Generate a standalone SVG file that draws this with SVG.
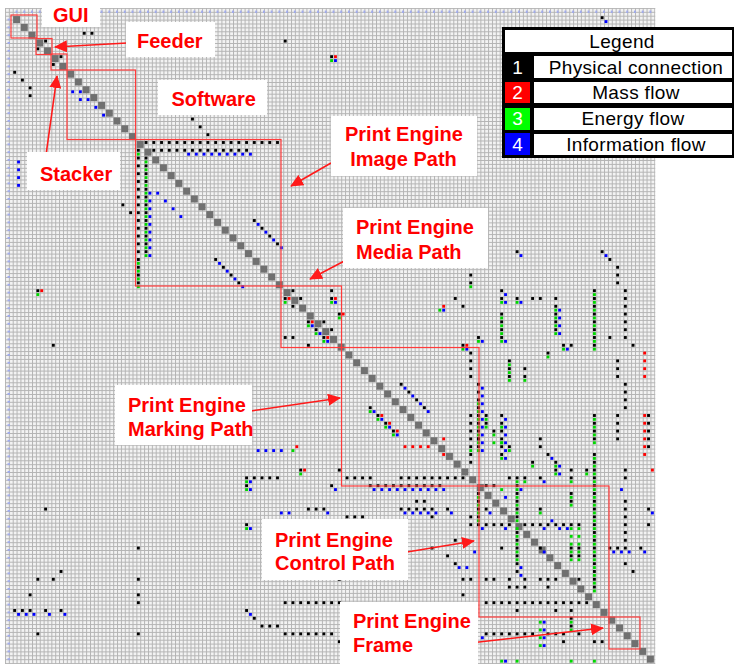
<svg xmlns="http://www.w3.org/2000/svg" width="735" height="664" viewBox="0 0 735 664">
<style>
.box{fill:none;stroke:#ff3b3b;stroke-width:1.2}
.wb{fill:#fff}
.lbl{font-family:"Liberation Sans",Arial,sans-serif;font-weight:bold;font-size:20px;fill:#ff0000}
.arr{stroke:#ff1a1a;stroke-width:1.6;fill:none;marker-end:url(#ah)}
.lg{font-family:"Liberation Sans",Arial,sans-serif;font-size:19px;letter-spacing:.35px;fill:#000;text-anchor:middle}
.lgn{font-family:"Liberation Sans",Arial,sans-serif;font-size:19px;fill:#fff;text-anchor:middle}
</style>
<defs>
<pattern id="grid" patternUnits="userSpaceOnUse" x="12.7" y="15.7" width="3.865" height="3.9"><rect width="3.865" height="3.9" fill="#f3f3f3"/><path d="M0 0.5H3.865M0.5 0V3.9" stroke="#b4b4b4" stroke-width="1"/></pattern>
<pattern id="hx" patternUnits="userSpaceOnUse" x="12.7" y="8" width="7.73" height="8"><rect x="3" y="2.5" width="1.6" height="2.5" fill="#9aa6f2"/></pattern>
<pattern id="hy" patternUnits="userSpaceOnUse" x="5" y="15.7" width="8" height="7.8"><rect x="2.5" y="3" width="2.5" height="1.6" fill="#9aa6f2"/></pattern>
<rect id="K" x=".07" y=".07" width=".37" height=".37" fill="#000"/>
<rect id="R" x=".57" y=".07" width=".37" height=".37" fill="#f00"/>
<rect id="G" x=".07" y=".57" width=".37" height=".37" fill="#00d800"/>
<rect id="B" x=".57" y=".57" width=".37" height=".37" fill="#0000ff"/>
<rect id="D" x=".05" y=".05" width=".9" height=".9" fill="#707070"/>
<marker id="ah" markerUnits="userSpaceOnUse" markerWidth="14" markerHeight="12" refX="12" refY="6" orient="auto"><path d="M0 0L13 6L0 12z" fill="#ff1a1a"/></marker>
</defs>
<rect width="735" height="664" fill="#fff"/>
<g id="grid-bg">
<rect x="5" y="8" width="650.3" height="656" fill="url(#grid)"/>
<rect x="12.7" y="8" width="641.6" height="7.7" fill="url(#hx)"/>
<rect x="5" y="15.7" width="7.7" height="648.3" fill="url(#hy)"/>
</g>
<g id="matrix" transform="translate(12.7 15.7) scale(7.73 7.8)">
<g id="diagonal">
<use href="#D" x="0" y="0"/><use href="#D" x="1" y="1"/><use href="#D" x="2" y="2"/><use href="#D" x="3" y="3"/><use href="#D" x="4" y="4"/><use href="#D" x="5" y="5"/><use href="#D" x="6" y="6"/><use href="#D" x="7" y="7"/><use href="#D" x="8" y="8"/><use href="#D" x="9" y="9"/>
<use href="#D" x="10" y="10"/><use href="#D" x="11" y="11"/><use href="#D" x="12" y="12"/><use href="#D" x="13" y="13"/><use href="#D" x="14" y="14"/><use href="#D" x="15" y="15"/><use href="#D" x="16" y="16"/><use href="#D" x="17" y="17"/><use href="#D" x="18" y="18"/><use href="#D" x="19" y="19"/>
<use href="#D" x="20" y="20"/><use href="#D" x="21" y="21"/><use href="#D" x="22" y="22"/><use href="#D" x="23" y="23"/><use href="#D" x="24" y="24"/><use href="#D" x="25" y="25"/><use href="#D" x="26" y="26"/><use href="#D" x="27" y="27"/><use href="#D" x="28" y="28"/><use href="#D" x="29" y="29"/>
<use href="#D" x="30" y="30"/><use href="#D" x="31" y="31"/><use href="#D" x="32" y="32"/><use href="#D" x="33" y="33"/><use href="#D" x="34" y="34"/><use href="#D" x="35" y="35"/><use href="#D" x="36" y="36"/><use href="#D" x="37" y="37"/><use href="#D" x="38" y="38"/><use href="#D" x="39" y="39"/>
<use href="#D" x="40" y="40"/><use href="#D" x="41" y="41"/><use href="#D" x="42" y="42"/><use href="#D" x="43" y="43"/><use href="#D" x="44" y="44"/><use href="#D" x="45" y="45"/><use href="#D" x="46" y="46"/><use href="#D" x="47" y="47"/><use href="#D" x="48" y="48"/><use href="#D" x="49" y="49"/>
<use href="#D" x="50" y="50"/><use href="#D" x="51" y="51"/><use href="#D" x="52" y="52"/><use href="#D" x="53" y="53"/><use href="#D" x="54" y="54"/><use href="#D" x="55" y="55"/><use href="#D" x="56" y="56"/><use href="#D" x="57" y="57"/><use href="#D" x="58" y="58"/><use href="#D" x="59" y="59"/>
<use href="#D" x="60" y="60"/><use href="#D" x="61" y="61"/><use href="#D" x="62" y="62"/><use href="#D" x="63" y="63"/><use href="#D" x="64" y="64"/><use href="#D" x="65" y="65"/><use href="#D" x="66" y="66"/><use href="#D" x="67" y="67"/><use href="#D" x="68" y="68"/><use href="#D" x="69" y="69"/>
<use href="#D" x="70" y="70"/><use href="#D" x="71" y="71"/><use href="#D" x="72" y="72"/><use href="#D" x="73" y="73"/><use href="#D" x="74" y="74"/><use href="#D" x="75" y="75"/><use href="#D" x="76" y="76"/><use href="#D" x="77" y="77"/><use href="#D" x="78" y="78"/><use href="#D" x="79" y="79"/>
<use href="#D" x="80" y="80"/><use href="#D" x="81" y="81"/><use href="#D" x="82" y="82"/>
</g>
<g id="marks">
<use href="#K" x="4" y="3"/><use href="#K" x="3" y="4"/><use href="#K" x="6" y="5"/><use href="#K" x="5" y="6"/><use href="#K" x="9" y="2"/><use href="#K" x="10" y="2"/><use href="#K" x="0" y="7"/><use href="#K" x="1" y="8"/><use href="#K" x="2" y="9"/><use href="#K" x="2" y="10"/>
<use href="#B" x="7" y="9"/><use href="#B" x="8" y="9"/><use href="#B" x="8" y="10"/><use href="#B" x="9" y="10"/><use href="#B" x="10" y="11"/><use href="#B" x="11" y="12"/>
<use href="#K" x="23" y="13"/><use href="#K" x="24" y="14"/><use href="#K" x="25" y="15"/><use href="#K" x="35" y="3"/>
<use href="#K" x="41" y="5"/><use href="#R" x="41" y="5"/><use href="#G" x="41" y="5"/><use href="#B" x="41" y="5"/>
<use href="#K" x="76" y="0"/><use href="#B" x="76" y="0"/>
<use href="#K" x="14" y="24"/><use href="#K" x="15" y="25"/>
<use href="#B" x="0" y="18"/><use href="#B" x="0" y="19"/><use href="#B" x="0" y="20"/><use href="#B" x="0" y="21"/>
<use href="#K" x="17" y="16"/><use href="#K" x="18" y="16"/><use href="#K" x="19" y="16"/><use href="#K" x="20" y="16"/><use href="#K" x="21" y="16"/><use href="#K" x="22" y="16"/><use href="#K" x="23" y="16"/><use href="#K" x="24" y="16"/><use href="#K" x="25" y="16"/><use href="#K" x="26" y="16"/><use href="#K" x="27" y="16"/><use href="#K" x="28" y="16"/><use href="#K" x="29" y="16"/><use href="#K" x="30" y="16"/><use href="#K" x="31" y="16"/><use href="#K" x="32" y="16"/><use href="#K" x="33" y="16"/><use href="#K" x="34" y="16"/>
<use href="#K" x="18" y="17"/><use href="#K" x="19" y="17"/><use href="#K" x="20" y="17"/><use href="#K" x="21" y="17"/><use href="#K" x="22" y="17"/><use href="#K" x="23" y="17"/><use href="#K" x="24" y="17"/><use href="#K" x="25" y="17"/><use href="#K" x="26" y="17"/><use href="#K" x="27" y="17"/><use href="#K" x="28" y="17"/><use href="#K" x="29" y="17"/><use href="#K" x="30" y="17"/>
<use href="#B" x="22" y="17"/><use href="#B" x="23" y="17"/><use href="#B" x="24" y="17"/><use href="#B" x="25" y="17"/><use href="#B" x="26" y="17"/><use href="#B" x="27" y="17"/><use href="#B" x="28" y="17"/><use href="#B" x="29" y="17"/><use href="#B" x="30" y="17"/>
<use href="#K" x="16" y="17"/><use href="#K" x="16" y="18"/><use href="#K" x="16" y="19"/><use href="#K" x="16" y="20"/><use href="#K" x="16" y="21"/><use href="#K" x="16" y="22"/><use href="#K" x="16" y="23"/><use href="#K" x="16" y="24"/><use href="#K" x="16" y="25"/><use href="#K" x="16" y="26"/><use href="#K" x="16" y="27"/><use href="#K" x="16" y="28"/><use href="#K" x="16" y="29"/><use href="#K" x="16" y="30"/><use href="#K" x="16" y="31"/><use href="#K" x="16" y="32"/><use href="#K" x="16" y="33"/><use href="#K" x="16" y="34"/>
<use href="#G" x="16" y="17"/><use href="#G" x="16" y="31"/><use href="#G" x="16" y="32"/><use href="#G" x="16" y="33"/><use href="#G" x="16" y="34"/>
<use href="#K" x="17" y="18"/><use href="#K" x="17" y="19"/><use href="#K" x="17" y="20"/><use href="#K" x="17" y="21"/><use href="#K" x="17" y="22"/><use href="#K" x="17" y="23"/><use href="#K" x="17" y="24"/><use href="#K" x="17" y="25"/><use href="#K" x="17" y="26"/><use href="#K" x="17" y="27"/><use href="#K" x="17" y="28"/><use href="#K" x="17" y="29"/><use href="#K" x="17" y="30"/>
<use href="#G" x="17" y="18"/><use href="#G" x="17" y="19"/><use href="#G" x="17" y="20"/><use href="#G" x="17" y="21"/><use href="#G" x="17" y="22"/><use href="#G" x="17" y="23"/><use href="#G" x="17" y="24"/><use href="#G" x="17" y="25"/><use href="#G" x="17" y="26"/><use href="#G" x="17" y="27"/><use href="#G" x="17" y="28"/><use href="#G" x="17" y="29"/><use href="#G" x="17" y="30"/>
<use href="#B" x="17" y="22"/><use href="#B" x="17" y="23"/><use href="#B" x="17" y="24"/><use href="#B" x="17" y="25"/><use href="#B" x="17" y="26"/><use href="#B" x="17" y="27"/><use href="#B" x="17" y="28"/><use href="#B" x="17" y="29"/><use href="#B" x="17" y="30"/>
<use href="#B" x="18" y="22"/><use href="#B" x="19" y="23"/><use href="#B" x="20" y="24"/><use href="#B" x="21" y="25"/>
<use href="#K" x="31" y="26"/><use href="#B" x="31" y="26"/><use href="#K" x="32" y="27"/><use href="#B" x="32" y="27"/><use href="#K" x="33" y="28"/><use href="#B" x="33" y="28"/><use href="#K" x="34" y="29"/><use href="#B" x="34" y="29"/>
<use href="#K" x="26" y="31"/><use href="#B" x="26" y="31"/><use href="#K" x="27" y="32"/><use href="#B" x="27" y="32"/><use href="#K" x="28" y="33"/><use href="#B" x="28" y="33"/><use href="#K" x="29" y="34"/><use href="#B" x="29" y="34"/>
<use href="#K" x="36" y="35"/><use href="#K" x="41" y="35"/>
<use href="#K" x="35" y="36"/><use href="#R" x="35" y="36"/><use href="#G" x="35" y="36"/><use href="#K" x="37" y="36"/>
<use href="#K" x="41" y="36"/><use href="#R" x="41" y="36"/><use href="#G" x="41" y="36"/><use href="#B" x="41" y="36"/>
<use href="#K" x="36" y="37"/>
<use href="#K" x="42" y="38"/><use href="#R" x="42" y="38"/><use href="#G" x="42" y="38"/>
<use href="#K" x="38" y="39"/><use href="#R" x="38" y="39"/><use href="#G" x="38" y="39"/><use href="#B" x="38" y="39"/><use href="#K" x="40" y="39"/>
<use href="#K" x="39" y="40"/><use href="#G" x="39" y="40"/><use href="#B" x="39" y="40"/><use href="#K" x="41" y="40"/>
<use href="#K" x="35" y="41"/><use href="#K" x="36" y="41"/>
<use href="#K" x="40" y="41"/><use href="#R" x="40" y="41"/><use href="#G" x="40" y="41"/><use href="#B" x="40" y="41"/>
<use href="#K" x="38" y="42"/>
<use href="#K" x="3" y="35"/><use href="#R" x="3" y="35"/><use href="#G" x="3" y="35"/><use href="#K" x="5" y="42"/>
<use href="#K" x="65" y="30"/><use href="#B" x="65" y="30"/><use href="#K" x="76" y="30"/><use href="#B" x="76" y="30"/><use href="#K" x="77" y="31"/><use href="#K" x="78" y="32"/><use href="#K" x="78" y="33"/><use href="#K" x="78" y="34"/>
<use href="#K" x="59" y="33"/><use href="#K" x="59" y="34"/><use href="#G" x="59" y="34"/>
<use href="#K" x="63" y="35"/><use href="#B" x="63" y="35"/><use href="#K" x="63" y="36"/><use href="#G" x="63" y="36"/><use href="#B" x="63" y="36"/>
<use href="#K" x="65" y="36"/><use href="#G" x="65" y="36"/><use href="#B" x="65" y="36"/><use href="#K" x="67" y="36"/><use href="#K" x="68" y="36"/><use href="#K" x="70" y="36"/>
<use href="#K" x="70" y="37"/><use href="#G" x="70" y="37"/><use href="#B" x="70" y="37"/><use href="#K" x="70" y="38"/><use href="#G" x="70" y="38"/><use href="#B" x="70" y="38"/><use href="#K" x="70" y="39"/><use href="#G" x="70" y="39"/><use href="#B" x="70" y="39"/><use href="#K" x="70" y="40"/><use href="#G" x="70" y="40"/><use href="#B" x="70" y="40"/>
<use href="#K" x="75" y="35"/><use href="#G" x="75" y="35"/><use href="#K" x="75" y="36"/><use href="#G" x="75" y="36"/><use href="#K" x="75" y="37"/><use href="#G" x="75" y="37"/><use href="#K" x="75" y="38"/><use href="#G" x="75" y="38"/><use href="#K" x="75" y="39"/><use href="#G" x="75" y="39"/><use href="#K" x="75" y="40"/><use href="#G" x="75" y="40"/><use href="#K" x="75" y="41"/><use href="#G" x="75" y="41"/><use href="#K" x="75" y="42"/><use href="#G" x="75" y="42"/>
<use href="#K" x="79" y="35"/><use href="#K" x="79" y="36"/><use href="#K" x="79" y="37"/><use href="#K" x="79" y="38"/><use href="#K" x="79" y="39"/><use href="#K" x="79" y="40"/><use href="#K" x="79" y="41"/>
<use href="#K" x="77" y="41"/><use href="#K" x="80" y="42"/>
<use href="#K" x="57" y="36"/><use href="#K" x="58" y="37"/><use href="#R" x="55" y="37"/><use href="#G" x="55" y="37"/><use href="#B" x="55" y="37"/>
<use href="#K" x="60" y="41"/><use href="#G" x="60" y="41"/><use href="#B" x="60" y="41"/>
<use href="#K" x="58" y="42"/><use href="#R" x="58" y="42"/><use href="#G" x="58" y="42"/><use href="#B" x="58" y="42"/>
<use href="#K" x="71" y="42"/><use href="#G" x="71" y="42"/><use href="#B" x="71" y="42"/><use href="#K" x="72" y="42"/><use href="#K" x="69" y="43"/><use href="#G" x="69" y="43"/>
<use href="#K" x="63" y="38"/><use href="#G" x="63" y="38"/><use href="#K" x="63" y="39"/><use href="#G" x="63" y="39"/><use href="#K" x="63" y="40"/><use href="#G" x="63" y="40"/><use href="#K" x="63" y="41"/><use href="#G" x="63" y="41"/><use href="#B" x="63" y="41"/>
<use href="#K" x="59" y="43"/><use href="#K" x="59" y="44"/><use href="#K" x="59" y="45"/><use href="#K" x="59" y="46"/>
<use href="#R" x="81" y="43"/><use href="#R" x="81" y="44"/><use href="#R" x="81" y="45"/><use href="#R" x="81" y="46"/>
<use href="#K" x="78" y="44"/><use href="#K" x="78" y="45"/><use href="#K" x="78" y="46"/>
<use href="#K" x="64" y="44"/><use href="#G" x="64" y="44"/><use href="#K" x="64" y="45"/><use href="#G" x="64" y="45"/><use href="#K" x="64" y="46"/><use href="#G" x="64" y="46"/>
<use href="#K" x="66" y="45"/><use href="#K" x="66" y="46"/><use href="#G" x="66" y="46"/>
<use href="#K" x="79" y="47"/><use href="#K" x="79" y="48"/><use href="#K" x="79" y="49"/><use href="#K" x="79" y="50"/>
<use href="#K" x="60" y="47"/><use href="#B" x="60" y="47"/><use href="#K" x="60" y="48"/><use href="#B" x="60" y="48"/>
<use href="#K" x="60" y="49"/><use href="#G" x="60" y="49"/><use href="#B" x="60" y="49"/><use href="#K" x="60" y="50"/><use href="#G" x="60" y="50"/><use href="#B" x="60" y="50"/><use href="#K" x="60" y="51"/><use href="#G" x="60" y="51"/><use href="#B" x="60" y="51"/><use href="#K" x="60" y="52"/><use href="#G" x="60" y="52"/><use href="#B" x="60" y="52"/><use href="#K" x="60" y="53"/><use href="#G" x="60" y="53"/><use href="#B" x="60" y="53"/><use href="#K" x="60" y="54"/><use href="#G" x="60" y="54"/><use href="#B" x="60" y="54"/><use href="#K" x="60" y="55"/><use href="#G" x="60" y="55"/><use href="#B" x="60" y="55"/>
<use href="#K" x="50" y="47"/><use href="#B" x="50" y="47"/><use href="#K" x="51" y="48"/><use href="#B" x="51" y="48"/><use href="#K" x="52" y="49"/><use href="#B" x="52" y="49"/><use href="#K" x="53" y="50"/><use href="#B" x="53" y="50"/>
<use href="#K" x="46" y="50"/><use href="#G" x="46" y="50"/><use href="#B" x="46" y="50"/>
<use href="#K" x="47" y="51"/><use href="#R" x="47" y="51"/><use href="#G" x="47" y="51"/><use href="#B" x="47" y="51"/>
<use href="#K" x="48" y="52"/><use href="#R" x="48" y="52"/><use href="#G" x="48" y="52"/><use href="#B" x="48" y="52"/>
<use href="#K" x="49" y="53"/><use href="#R" x="49" y="53"/><use href="#G" x="49" y="53"/><use href="#B" x="49" y="53"/>
<use href="#K" x="59" y="51"/><use href="#K" x="59" y="52"/><use href="#K" x="59" y="53"/><use href="#K" x="59" y="54"/><use href="#K" x="59" y="55"/><use href="#G" x="59" y="55"/><use href="#K" x="59" y="56"/><use href="#K" x="59" y="57"/>
<use href="#K" x="61" y="51"/><use href="#G" x="61" y="51"/><use href="#K" x="61" y="52"/><use href="#G" x="61" y="52"/>
<use href="#K" x="62" y="53"/><use href="#G" x="62" y="53"/><use href="#G" x="62" y="54"/>
<use href="#K" x="63" y="51"/><use href="#B" x="63" y="51"/><use href="#K" x="63" y="52"/><use href="#G" x="63" y="52"/><use href="#B" x="63" y="52"/><use href="#K" x="63" y="53"/><use href="#B" x="63" y="53"/><use href="#K" x="63" y="54"/><use href="#G" x="63" y="54"/><use href="#B" x="63" y="54"/><use href="#K" x="63" y="55"/><use href="#B" x="63" y="55"/>
<use href="#K" x="64" y="55"/><use href="#G" x="64" y="55"/><use href="#K" x="68" y="55"/><use href="#K" x="68" y="54"/>
<use href="#K" x="75" y="51"/><use href="#G" x="75" y="51"/><use href="#K" x="75" y="52"/><use href="#G" x="75" y="52"/><use href="#K" x="75" y="53"/><use href="#G" x="75" y="53"/><use href="#K" x="75" y="54"/><use href="#G" x="75" y="54"/>
<use href="#K" x="78" y="51"/><use href="#K" x="78" y="52"/><use href="#K" x="78" y="53"/><use href="#K" x="78" y="54"/>
<use href="#R" x="81" y="51"/><use href="#R" x="81" y="52"/><use href="#R" x="81" y="53"/><use href="#R" x="81" y="54"/><use href="#R" x="81" y="55"/>
<use href="#K" x="82" y="51"/><use href="#K" x="82" y="52"/><use href="#K" x="82" y="53"/><use href="#K" x="82" y="54"/><use href="#K" x="82" y="55"/>
<use href="#R" x="50" y="55"/><use href="#R" x="51" y="55"/><use href="#R" x="52" y="55"/><use href="#R" x="53" y="55"/><use href="#R" x="55" y="54"/><use href="#R" x="55" y="56"/>
<use href="#B" x="31" y="55"/><use href="#B" x="32" y="55"/><use href="#B" x="33" y="55"/><use href="#B" x="34" y="55"/><use href="#R" x="36" y="55"/><use href="#G" x="36" y="55"/>
<use href="#K" x="37" y="58"/><use href="#R" x="37" y="58"/><use href="#G" x="37" y="58"/><use href="#K" x="42" y="58"/>
<use href="#K" x="30" y="59"/><use href="#G" x="30" y="59"/><use href="#B" x="30" y="59"/><use href="#K" x="31" y="59"/><use href="#K" x="32" y="59"/><use href="#K" x="33" y="59"/><use href="#K" x="34" y="59"/>
<use href="#K" x="43" y="59"/><use href="#K" x="44" y="59"/><use href="#K" x="45" y="59"/><use href="#K" x="46" y="59"/>
<use href="#K" x="50" y="59"/><use href="#K" x="51" y="59"/><use href="#K" x="52" y="59"/><use href="#K" x="53" y="59"/><use href="#K" x="54" y="59"/><use href="#K" x="55" y="59"/><use href="#K" x="56" y="59"/><use href="#K" x="57" y="59"/><use href="#K" x="58" y="59"/>
<use href="#K" x="30" y="60"/><use href="#G" x="30" y="60"/><use href="#B" x="30" y="60"/><use href="#K" x="41" y="60"/><use href="#B" x="41" y="60"/>
<use href="#K" x="46" y="60"/><use href="#B" x="46" y="60"/><use href="#K" x="47" y="60"/><use href="#B" x="47" y="60"/><use href="#K" x="48" y="60"/><use href="#B" x="48" y="60"/><use href="#K" x="49" y="60"/><use href="#B" x="49" y="60"/><use href="#K" x="50" y="60"/><use href="#B" x="50" y="60"/><use href="#K" x="51" y="60"/><use href="#B" x="51" y="60"/><use href="#K" x="52" y="60"/><use href="#B" x="52" y="60"/><use href="#K" x="53" y="60"/><use href="#B" x="53" y="60"/><use href="#K" x="54" y="60"/><use href="#B" x="54" y="60"/><use href="#K" x="55" y="60"/><use href="#B" x="55" y="60"/>
<use href="#K" x="52" y="62"/><use href="#K" x="53" y="62"/>
<use href="#K" x="50" y="63"/><use href="#B" x="50" y="63"/><use href="#K" x="51" y="63"/><use href="#B" x="51" y="63"/><use href="#K" x="52" y="63"/><use href="#B" x="52" y="63"/><use href="#K" x="53" y="63"/><use href="#B" x="53" y="63"/><use href="#K" x="54" y="63"/><use href="#B" x="54" y="63"/>
<use href="#K" x="56" y="63"/><use href="#B" x="56" y="63"/><use href="#K" x="38" y="63"/><use href="#K" x="39" y="63"/><use href="#K" x="40" y="63"/><use href="#B" x="40" y="63"/><use href="#B" x="34" y="63"/><use href="#B" x="35" y="63"/>
<use href="#K" x="54" y="64"/><use href="#K" x="43" y="64"/><use href="#K" x="44" y="64"/><use href="#K" x="45" y="64"/>
<use href="#K" x="30" y="65"/><use href="#G" x="30" y="65"/><use href="#B" x="30" y="65"/>
<use href="#K" x="42" y="72"/><use href="#K" x="54" y="68"/><use href="#K" x="56" y="69"/><use href="#K" x="57" y="67"/><use href="#K" x="57" y="70"/><use href="#B" x="57" y="70"/><use href="#B" x="58" y="70"/>
<use href="#K" x="35" y="75"/><use href="#K" x="36" y="75"/><use href="#K" x="37" y="75"/><use href="#K" x="38" y="75"/><use href="#K" x="39" y="75"/><use href="#K" x="40" y="75"/><use href="#K" x="41" y="75"/><use href="#K" x="42" y="75"/>
<use href="#K" x="30" y="76"/><use href="#B" x="30" y="76"/><use href="#K" x="31" y="77"/><use href="#K" x="32" y="78"/><use href="#K" x="33" y="78"/><use href="#K" x="34" y="78"/>
<use href="#K" x="35" y="79"/><use href="#K" x="36" y="79"/><use href="#K" x="37" y="79"/><use href="#K" x="38" y="79"/><use href="#K" x="39" y="79"/><use href="#K" x="40" y="79"/><use href="#K" x="41" y="79"/><use href="#K" x="42" y="80"/>
<use href="#K" x="4" y="63"/><use href="#K" x="16" y="68"/><use href="#K" x="6" y="71"/><use href="#K" x="3" y="72"/><use href="#K" x="5" y="72"/><use href="#K" x="16" y="72"/><use href="#K" x="2" y="74"/><use href="#K" x="16" y="74"/><use href="#K" x="16" y="75"/>
<use href="#K" x="0" y="76"/><use href="#B" x="0" y="76"/><use href="#K" x="1" y="76"/><use href="#B" x="1" y="76"/><use href="#K" x="2" y="76"/><use href="#B" x="2" y="76"/><use href="#K" x="4" y="76"/><use href="#B" x="4" y="76"/><use href="#K" x="6" y="76"/><use href="#B" x="6" y="76"/>
<use href="#K" x="3" y="79"/><use href="#K" x="16" y="79"/>
<use href="#K" x="60" y="54"/><use href="#G" x="63" y="54"/>
<use href="#K" x="63" y="56"/><use href="#G" x="63" y="56"/><use href="#B" x="63" y="56"/><use href="#K" x="67" y="57"/><use href="#G" x="67" y="57"/>
<use href="#K" x="70" y="57"/><use href="#G" x="70" y="57"/><use href="#B" x="70" y="57"/><use href="#K" x="70" y="58"/><use href="#G" x="70" y="58"/><use href="#B" x="70" y="58"/>
<use href="#K" x="72" y="58"/><use href="#K" x="74" y="58"/><use href="#G" x="74" y="58"/><use href="#K" x="69" y="56"/><use href="#B" x="69" y="56"/>
<use href="#K" x="75" y="56"/><use href="#G" x="75" y="56"/><use href="#K" x="75" y="57"/><use href="#G" x="75" y="57"/><use href="#K" x="75" y="58"/><use href="#G" x="75" y="58"/><use href="#K" x="75" y="59"/><use href="#G" x="75" y="59"/><use href="#K" x="75" y="60"/><use href="#G" x="75" y="60"/><use href="#K" x="75" y="61"/><use href="#G" x="75" y="61"/><use href="#K" x="75" y="62"/><use href="#G" x="75" y="62"/><use href="#K" x="75" y="63"/><use href="#G" x="75" y="63"/><use href="#K" x="75" y="64"/><use href="#G" x="75" y="64"/><use href="#K" x="75" y="65"/><use href="#G" x="75" y="65"/><use href="#K" x="75" y="66"/><use href="#G" x="75" y="66"/><use href="#K" x="75" y="67"/><use href="#G" x="75" y="67"/><use href="#K" x="75" y="68"/><use href="#G" x="75" y="68"/><use href="#K" x="75" y="69"/><use href="#G" x="75" y="69"/><use href="#K" x="75" y="70"/><use href="#G" x="75" y="70"/><use href="#K" x="75" y="71"/><use href="#G" x="75" y="71"/><use href="#K" x="75" y="72"/><use href="#G" x="75" y="72"/><use href="#K" x="75" y="73"/><use href="#G" x="75" y="73"/>
<use href="#K" x="79" y="58"/><use href="#K" x="79" y="59"/><use href="#B" x="78" y="60"/>
<use href="#K" x="79" y="62"/><use href="#K" x="79" y="63"/><use href="#K" x="79" y="64"/><use href="#K" x="79" y="65"/><use href="#K" x="79" y="66"/><use href="#K" x="79" y="67"/>
<use href="#K" x="82" y="63"/><use href="#B" x="82" y="63"/><use href="#K" x="82" y="65"/>
<use href="#K" x="77" y="68"/><use href="#B" x="77" y="68"/><use href="#K" x="78" y="68"/><use href="#B" x="78" y="68"/><use href="#K" x="79" y="68"/><use href="#B" x="79" y="68"/><use href="#K" x="81" y="68"/><use href="#B" x="81" y="68"/>
<use href="#K" x="79" y="70"/><use href="#K" x="80" y="71"/><use href="#R" x="81" y="56"/><use href="#R" x="82" y="58"/>
<use href="#K" x="64" y="59"/><use href="#K" x="65" y="59"/><use href="#G" x="65" y="59"/><use href="#K" x="66" y="59"/><use href="#G" x="66" y="59"/><use href="#K" x="68" y="59"/><use href="#B" x="68" y="59"/><use href="#K" x="72" y="59"/><use href="#G" x="72" y="59"/>
<use href="#K" x="61" y="60"/><use href="#K" x="62" y="60"/><use href="#G" x="63" y="60"/><use href="#B" x="65" y="60"/>
<use href="#K" x="60" y="61"/><use href="#G" x="60" y="61"/><use href="#K" x="60" y="62"/><use href="#G" x="60" y="62"/><use href="#K" x="60" y="63"/><use href="#G" x="60" y="63"/><use href="#K" x="60" y="64"/><use href="#G" x="60" y="64"/>
<use href="#K" x="65" y="60"/><use href="#G" x="65" y="60"/><use href="#K" x="65" y="61"/><use href="#G" x="65" y="61"/><use href="#K" x="65" y="62"/><use href="#G" x="65" y="62"/><use href="#K" x="65" y="63"/><use href="#G" x="65" y="63"/><use href="#K" x="65" y="64"/><use href="#G" x="65" y="64"/><use href="#G" x="65" y="65"/><use href="#K" x="65" y="66"/><use href="#G" x="65" y="66"/><use href="#K" x="65" y="67"/><use href="#G" x="65" y="67"/><use href="#K" x="65" y="68"/><use href="#G" x="65" y="68"/><use href="#K" x="65" y="69"/><use href="#G" x="65" y="69"/><use href="#K" x="65" y="70"/><use href="#B" x="65" y="70"/><use href="#K" x="65" y="71"/><use href="#B" x="65" y="71"/>
<use href="#B" x="63" y="61"/><use href="#K" x="61" y="63"/><use href="#B" x="61" y="63"/><use href="#K" x="68" y="63"/><use href="#G" x="68" y="63"/><use href="#B" x="69" y="64"/>
<use href="#K" x="72" y="61"/><use href="#G" x="72" y="61"/><use href="#K" x="72" y="62"/><use href="#G" x="72" y="62"/>
<use href="#K" x="72" y="65"/><use href="#G" x="72" y="65"/><use href="#K" x="73" y="65"/><use href="#G" x="73" y="65"/><use href="#G" x="72" y="66"/><use href="#G" x="73" y="66"/><use href="#G" x="72" y="67"/><use href="#G" x="73" y="67"/><use href="#K" x="72" y="68"/><use href="#G" x="72" y="68"/><use href="#K" x="73" y="68"/><use href="#G" x="73" y="68"/><use href="#K" x="72" y="69"/><use href="#G" x="72" y="69"/><use href="#K" x="73" y="69"/><use href="#G" x="73" y="69"/>
<use href="#K" x="59" y="64"/><use href="#B" x="59" y="68"/>
<use href="#K" x="59" y="65"/><use href="#K" x="60" y="65"/><use href="#B" x="60" y="65"/><use href="#K" x="61" y="65"/><use href="#K" x="62" y="65"/><use href="#K" x="63" y="65"/><use href="#B" x="63" y="65"/><use href="#K" x="64" y="65"/><use href="#K" x="66" y="65"/><use href="#K" x="67" y="65"/><use href="#K" x="68" y="65"/><use href="#B" x="68" y="65"/><use href="#K" x="69" y="65"/><use href="#K" x="70" y="65"/><use href="#B" x="70" y="65"/><use href="#K" x="71" y="65"/><use href="#B" x="71" y="65"/>
<use href="#K" x="63" y="68"/><use href="#K" x="68" y="68"/><use href="#B" x="68" y="68"/>
<use href="#K" x="58" y="72"/><use href="#K" x="59" y="72"/><use href="#K" x="61" y="72"/><use href="#K" x="62" y="72"/><use href="#K" x="64" y="72"/><use href="#K" x="66" y="72"/><use href="#K" x="68" y="72"/><use href="#K" x="69" y="72"/><use href="#K" x="70" y="72"/><use href="#K" x="73" y="72"/>
<use href="#K" x="64" y="73"/><use href="#K" x="65" y="73"/><use href="#K" x="66" y="73"/><use href="#K" x="69" y="73"/><use href="#K" x="58" y="74"/>
<use href="#K" x="61" y="75"/><use href="#K" x="62" y="75"/><use href="#K" x="63" y="75"/><use href="#K" x="64" y="75"/><use href="#K" x="65" y="75"/><use href="#K" x="66" y="75"/><use href="#K" x="67" y="75"/><use href="#K" x="68" y="75"/><use href="#K" x="69" y="75"/><use href="#K" x="70" y="75"/><use href="#K" x="71" y="75"/><use href="#K" x="72" y="75"/><use href="#K" x="73" y="75"/><use href="#K" x="74" y="75"/>
<use href="#K" x="65" y="76"/><use href="#K" x="70" y="76"/><use href="#K" x="72" y="76"/>
<use href="#K" x="61" y="79"/><use href="#K" x="62" y="79"/><use href="#K" x="63" y="79"/><use href="#K" x="64" y="79"/><use href="#K" x="65" y="79"/><use href="#K" x="66" y="79"/><use href="#K" x="67" y="79"/><use href="#K" x="69" y="79"/><use href="#K" x="70" y="79"/><use href="#K" x="71" y="79"/><use href="#K" x="73" y="79"/>
<use href="#G" x="68" y="77"/><use href="#B" x="68" y="77"/><use href="#G" x="68" y="78"/><use href="#B" x="68" y="78"/><use href="#G" x="68" y="79"/><use href="#B" x="68" y="79"/><use href="#G" x="68" y="80"/><use href="#B" x="68" y="80"/>
<use href="#K" x="72" y="77"/><use href="#G" x="72" y="77"/><use href="#K" x="72" y="78"/><use href="#G" x="72" y="78"/>
<use href="#B" x="60" y="79"/><use href="#K" x="71" y="80"/><use href="#K" x="75" y="80"/><use href="#K" x="76" y="80"/>
<use href="#G" x="63" y="82"/><use href="#B" x="63" y="82"/><use href="#G" x="65" y="82"/><use href="#G" x="72" y="82"/><use href="#G" x="75" y="82"/>
</g>
</g>
<g id="modules">
<rect id="m-gui" class="box" x="11" y="15" width="26" height="23"/>
<rect id="m-feeder" class="box" x="36" y="38.5" width="16" height="16"/>
<rect id="m-stacker" class="box" x="51" y="54" width="16" height="16"/>
<rect id="m-software" class="box" x="67" y="70" width="68.5" height="69.5"/>
<rect id="m-image" class="box" x="135.5" y="139.5" width="145.5" height="146.5"/>
<rect id="m-media" class="box" x="281" y="286" width="60.5" height="61.5"/>
<rect id="m-marking" class="box" x="341.5" y="347.5" width="137.5" height="138.5"/>
<rect id="m-control" class="box" x="479" y="486" width="130" height="131"/>
<rect id="m-frame" class="box" x="609" y="617" width="31" height="32"/>
</g>
<g id="connectors">
<line class="arr" x1="127" y1="43" x2="55" y2="47"/>
<line class="arr" x1="46" y1="155" x2="57" y2="76"/>
<line class="arr" x1="331" y1="163" x2="291" y2="186"/>
<line class="arr" x1="352" y1="257" x2="310" y2="279"/>
<line class="arr" x1="251" y1="411" x2="340" y2="398"/>
<line class="arr" x1="407" y1="552" x2="474" y2="541"/>
<line class="arr" x1="470" y1="643" x2="603" y2="628"/>
</g>
<g id="lbl-gui"><rect class="wb" x="42" y="0" width="58" height="27"/><text class="lbl" x="53" y="22">GUI</text></g>
<g id="lbl-feeder"><rect class="wb" x="126" y="22" width="89" height="35"/><text class="lbl" x="137" y="48">Feeder</text></g>
<g id="lbl-software"><rect class="wb" x="158" y="80" width="109" height="35"/><text class="lbl" x="171.5" y="106">Software</text></g>
<g id="lbl-stacker"><rect class="wb" x="27" y="152" width="93" height="38"/><text class="lbl" x="40" y="181">Stacker</text></g>
<g id="lbl-image"><rect class="wb" x="331" y="116" width="146" height="60"/><text class="lbl" x="345" y="141">Print Engine</text><text class="lbl" x="403.5" y="166" text-anchor="middle">Image Path</text></g>
<g id="lbl-media"><rect class="wb" x="343" y="208" width="145" height="60"/><text class="lbl" x="356" y="234">Print Engine</text><text class="lbl" x="356" y="259">Media Path</text></g>
<g id="lbl-marking"><rect class="wb" x="115" y="385" width="137" height="60"/><text class="lbl" x="128" y="411.5">Print Engine</text><text class="lbl" x="128" y="436">Marking Path</text></g>
<g id="lbl-control"><rect class="wb" x="262" y="519" width="146" height="61"/><text class="lbl" x="275" y="546.5">Print Engine</text><text class="lbl" x="275" y="570">Control Path</text></g>
<g id="lbl-frame"><rect class="wb" x="340" y="602" width="138" height="62"/><text class="lbl" x="353" y="628">Print Engine</text><text class="lbl" x="353" y="652">Frame</text></g>
<g id="legend">
<rect x="502" y="27" width="232" height="131" fill="#000"/>
<rect x="505" y="30" width="227" height="22" fill="#fff"/>
<text class="lg" x="622" y="48">Legend</text>
<rect x="504" y="55" width="28" height="24" fill="#000"/>
<rect x="534" y="56" width="198" height="22" fill="#fff"/>
<rect x="505" y="82" width="25" height="21" fill="#ff0000"/>
<rect x="534" y="82" width="198" height="21" fill="#fff"/>
<rect x="505" y="108" width="25" height="22" fill="#00ff00"/>
<rect x="534" y="108" width="198" height="22" fill="#fff"/>
<rect x="505" y="133" width="25" height="22" fill="#0000ff"/>
<rect x="534" y="134" width="198" height="21" fill="#fff"/>
<text class="lgn" x="517.5" y="74">1</text>
<text class="lgn" x="517.5" y="99">2</text>
<text class="lgn" x="517.5" y="125">3</text>
<text class="lgn" x="517.5" y="151">4</text>
<text class="lg" x="636" y="74">Physical connection</text>
<text class="lg" x="636" y="99">Mass flow</text>
<text class="lg" x="633" y="125">Energy flow</text>
<text class="lg" x="636" y="151">Information flow</text>
</g>
</svg>
